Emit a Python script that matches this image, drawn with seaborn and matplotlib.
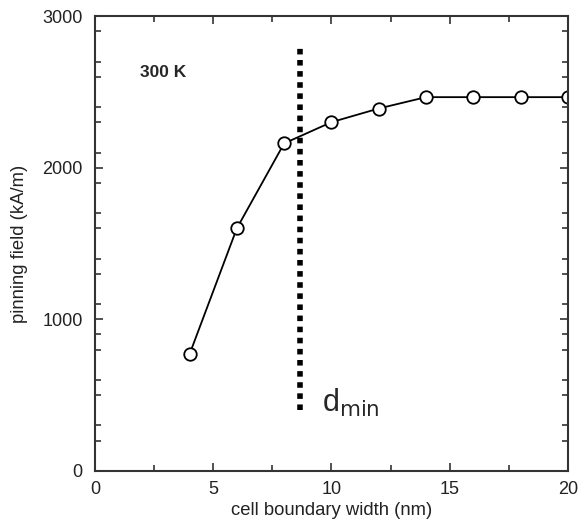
import matplotlib
matplotlib.use("Agg")
import matplotlib.pyplot as plt
import seaborn as sns
import pandas as pd
from matplotlib.ticker import FixedLocator

width_nm = [4, 6, 8, 10, 12, 14, 16, 18, 20]
pinning_field = [770, 1600, 2160, 2300, 2390, 2465, 2465, 2465, 2465]
x_ticks = [0, 5, 10, 15, 20]
y_ticks = [0, 1000, 2000, 3000]
y_tick_labels = ["0", "1000", "2000", "3000"]
d_min = 8.67
d_min_range = [400, 2790]

sns.set_theme(style="ticks")
plt.rcParams['font.family'] = ['Liberation Sans', 'DejaVu Sans']

fig = plt.figure(figsize=(5.8, 5.25), dpi=100)
ax = fig.add_axes([0.1638, 0.1029, 0.8152, 0.8666])

df = pd.DataFrame({"w": width_nm, "h": pinning_field})
sns.lineplot(data=df, x="w", y="h", ax=ax, color="black", linewidth=1.3,
             marker="o", markersize=9, markerfacecolor="white",
             markeredgecolor="black", markeredgewidth=1.3)

ax.vlines(d_min, d_min_range[0], d_min_range[1], colors="black",
          linestyles=(0, (1, 1)), linewidth=4)

ax.set_xlim(0, 20)
ax.set_ylim(0, 3000)
ax.set_xticks(x_ticks)
ax.set_yticks(y_ticks)
ax.set_yticklabels(y_tick_labels)
ax.xaxis.set_minor_locator(FixedLocator([2.5, 7.5, 12.5, 17.5]))
ax.yaxis.set_minor_locator(FixedLocator([200, 300, 500, 600, 800, 900,
                                         1100, 1300, 1400, 1600, 1700, 1900,
                                         2100, 2300, 2400, 2600, 2700, 2900]))
ax.tick_params(which="both", direction="in", top=True, right=True,
               labelsize=13, color="#333333", width=1.2, labelcolor="#222222")
ax.tick_params(axis="y", which="major", pad=9)
ax.tick_params(axis="x", which="major", pad=7)
ax.tick_params(which="major", length=6)
ax.tick_params(which="minor", length=4)
for s in ax.spines.values():
    s.set_linewidth(1.5)
    s.set_color("#333333")

ax.set_xlabel("cell boundary width (nm)", fontsize=13.3, labelpad=3, color="#222222")
ax.set_ylabel("pinning field (kA/m)", fontsize=13.3, labelpad=10, color="#222222")

ax.text(1.9, 2630, "300 K", fontsize=12.5, fontweight="bold", ha="left", va="center")
ax.text(9.6, 450, r"d$_{\mathrm{min}}$", fontsize=22, ha="left", va="center")

fig.savefig("out.png", dpi=100)
